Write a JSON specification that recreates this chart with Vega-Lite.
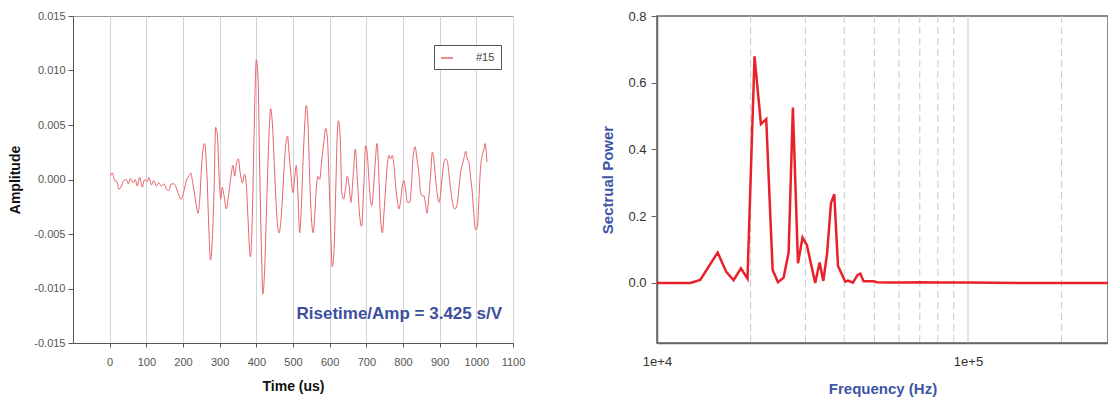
{
  "$schema": "https://vega.github.io/schema/vega-lite/v6.json",
  "padding": {"left": 7, "top": 9, "right": 0, "bottom": 0},
  "background": "white",
  "spacing": 74,
  "config": {
    "font": "Liberation Sans",
    "axis": {"labelFont": "Liberation Sans", "titleFont": "Liberation Sans"},
    "legend": {"labelFont": "Liberation Sans"}
  },
  "datasets": {
    "wave": [
      {"t": 2, "a": 0.0003}, {"t": 7, "a": 0.0006}, {"t": 14, "a": -0.0001}, {"t": 20, "a": -0.0002},
      {"t": 25, "a": -0.0009}, {"t": 32, "a": -0.0006}, {"t": 38, "a": -0.0001}, {"t": 45, "a": 0.0},
      {"t": 51, "a": -0.0004}, {"t": 57, "a": 0.0001}, {"t": 64, "a": -0.0003}, {"t": 70, "a": 0.0},
      {"t": 75, "a": -0.0006}, {"t": 82, "a": 0.0002}, {"t": 89, "a": -0.0007}, {"t": 95, "a": 0.0},
      {"t": 102, "a": -0.0002}, {"t": 107, "a": 0.0002}, {"t": 114, "a": -0.0005}, {"t": 120, "a": -0.0001},
      {"t": 127, "a": -0.0006}, {"t": 134, "a": -0.0003}, {"t": 141, "a": -0.0006}, {"t": 148, "a": -0.0004},
      {"t": 155, "a": -0.0009}, {"t": 161, "a": -0.001}, {"t": 168, "a": -0.0004}, {"t": 175, "a": -0.0004},
      {"t": 180, "a": -0.0006}, {"t": 186, "a": -0.0012}, {"t": 195, "a": -0.0018}, {"t": 203, "a": -0.001},
      {"t": 209, "a": -0.0001}, {"t": 216, "a": 0.0003}, {"t": 221, "a": 0.0006}, {"t": 227, "a": -0.0004},
      {"t": 235, "a": -0.0021}, {"t": 241, "a": -0.0031}, {"t": 245, "a": -0.0021}, {"t": 252, "a": 0.0019},
      {"t": 259, "a": 0.0033}, {"t": 265, "a": 0.0006}, {"t": 271, "a": -0.0049}, {"t": 275, "a": -0.0074},
      {"t": 280, "a": -0.0055}, {"t": 285, "a": -0.0006}, {"t": 289, "a": 0.0048}, {"t": 294, "a": 0.004},
      {"t": 298, "a": 0.0006}, {"t": 303, "a": -0.0018}, {"t": 307, "a": -0.0007}, {"t": 312, "a": -0.0015},
      {"t": 318, "a": -0.0027}, {"t": 325, "a": -0.0012}, {"t": 332, "a": 0.0006}, {"t": 336, "a": 0.0013},
      {"t": 341, "a": 0.0003}, {"t": 345, "a": 0.0013}, {"t": 351, "a": 0.0019}, {"t": 356, "a": 0.0006},
      {"t": 362, "a": -0.0003}, {"t": 368, "a": 0.0005}, {"t": 373, "a": -0.0006}, {"t": 377, "a": -0.0034},
      {"t": 384, "a": -0.0071}, {"t": 389, "a": -0.0034}, {"t": 394, "a": 0.0044}, {"t": 400, "a": 0.011},
      {"t": 405, "a": 0.009}, {"t": 409, "a": 0.0013}, {"t": 414, "a": -0.0065}, {"t": 418, "a": -0.0105},
      {"t": 423, "a": -0.008}, {"t": 429, "a": -0.0012}, {"t": 435, "a": 0.0044}, {"t": 439, "a": 0.0065},
      {"t": 444, "a": 0.005}, {"t": 450, "a": 0.0006}, {"t": 456, "a": -0.0034}, {"t": 462, "a": -0.0049},
      {"t": 468, "a": -0.0034}, {"t": 475, "a": 0.0006}, {"t": 480, "a": 0.0031}, {"t": 485, "a": 0.004},
      {"t": 489, "a": 0.0025}, {"t": 494, "a": 0.0006}, {"t": 500, "a": -0.0012}, {"t": 505, "a": 0.0003},
      {"t": 509, "a": 0.0013}, {"t": 514, "a": -0.0018}, {"t": 518, "a": -0.0049}, {"t": 523, "a": -0.0024},
      {"t": 527, "a": 0.0013}, {"t": 532, "a": 0.005}, {"t": 536, "a": 0.0068}, {"t": 541, "a": 0.005},
      {"t": 545, "a": 0.0006}, {"t": 550, "a": -0.0034}, {"t": 555, "a": -0.0049}, {"t": 559, "a": -0.0034},
      {"t": 564, "a": -0.0006}, {"t": 568, "a": 0.0003}, {"t": 573, "a": 0.0}, {"t": 577, "a": 0.0013},
      {"t": 584, "a": 0.0034}, {"t": 589, "a": 0.0047}, {"t": 594, "a": 0.0037}, {"t": 598, "a": 0.0003},
      {"t": 603, "a": -0.0049}, {"t": 607, "a": -0.008}, {"t": 612, "a": -0.0065}, {"t": 616, "a": -0.0018},
      {"t": 621, "a": 0.0044}, {"t": 624, "a": 0.0054}, {"t": 629, "a": 0.0037}, {"t": 633, "a": -0.0012},
      {"t": 638, "a": -0.0018}, {"t": 643, "a": -0.0009}, {"t": 648, "a": 0.0003}, {"t": 653, "a": -0.0006},
      {"t": 658, "a": -0.0021}, {"t": 664, "a": 0.0003}, {"t": 670, "a": 0.0028}, {"t": 675, "a": 0.0003},
      {"t": 682, "a": -0.0034}, {"t": 687, "a": -0.0043}, {"t": 693, "a": -0.0006}, {"t": 698, "a": 0.0031},
      {"t": 703, "a": 0.0022}, {"t": 707, "a": 0.0}, {"t": 712, "a": -0.0021}, {"t": 715, "a": -0.0024},
      {"t": 720, "a": -0.0006}, {"t": 725, "a": 0.0019}, {"t": 729, "a": 0.0033}, {"t": 734, "a": 0.0006},
      {"t": 738, "a": -0.0031}, {"t": 744, "a": -0.0049}, {"t": 748, "a": -0.0031}, {"t": 753, "a": -0.0006},
      {"t": 757, "a": 0.0013}, {"t": 762, "a": 0.0022}, {"t": 766, "a": 0.0019}, {"t": 771, "a": 0.0022},
      {"t": 775, "a": 0.0014}, {"t": 780, "a": -0.0006}, {"t": 785, "a": -0.0021}, {"t": 789, "a": -0.0027},
      {"t": 794, "a": -0.0018}, {"t": 798, "a": -0.0006}, {"t": 803, "a": -0.0001}, {"t": 807, "a": -0.0009},
      {"t": 812, "a": -0.0021}, {"t": 818, "a": -0.0021}, {"t": 823, "a": -0.0006}, {"t": 827, "a": 0.0019},
      {"t": 833, "a": 0.003}, {"t": 838, "a": 0.0019}, {"t": 844, "a": 0.0003}, {"t": 848, "a": -0.0012},
      {"t": 853, "a": -0.0015}, {"t": 857, "a": -0.0015}, {"t": 862, "a": -0.0024}, {"t": 865, "a": -0.0031},
      {"t": 870, "a": -0.0018}, {"t": 875, "a": 0.0003}, {"t": 880, "a": 0.0025}, {"t": 885, "a": 0.0016},
      {"t": 889, "a": 0.0}, {"t": 894, "a": -0.0015}, {"t": 898, "a": -0.0021}, {"t": 903, "a": -0.0012},
      {"t": 907, "a": 0.0003}, {"t": 912, "a": 0.0016}, {"t": 916, "a": 0.0019}, {"t": 921, "a": 0.0017},
      {"t": 925, "a": 0.0006}, {"t": 930, "a": -0.0009}, {"t": 935, "a": -0.0021}, {"t": 941, "a": -0.0027},
      {"t": 947, "a": -0.0024}, {"t": 953, "a": -0.0006}, {"t": 957, "a": 0.0006}, {"t": 962, "a": 0.0014},
      {"t": 966, "a": 0.0019}, {"t": 971, "a": 0.0026}, {"t": 975, "a": 0.0019}, {"t": 980, "a": 0.0016},
      {"t": 984, "a": 0.0003}, {"t": 989, "a": -0.0012}, {"t": 993, "a": -0.0031}, {"t": 998, "a": -0.0046},
      {"t": 1003, "a": -0.0043}, {"t": 1007, "a": -0.0018}, {"t": 1012, "a": 0.0013}, {"t": 1016, "a": 0.0022},
      {"t": 1021, "a": 0.0028}, {"t": 1024, "a": 0.0033}, {"t": 1029, "a": 0.0016}
    ],
    "spectrum": [
      {"f": 10000, "p": 0.0}, {"f": 12800, "p": 0.0}, {"f": 13770, "p": 0.009}, {"f": 15670, "p": 0.091},
      {"f": 16700, "p": 0.033}, {"f": 17630, "p": 0.008}, {"f": 18620, "p": 0.044}, {"f": 19540, "p": 0.013},
      {"f": 20590, "p": 0.679}, {"f": 21590, "p": 0.476}, {"f": 22450, "p": 0.491}, {"f": 23540, "p": 0.039},
      {"f": 24490, "p": 0.002}, {"f": 25540, "p": 0.016}, {"f": 26500, "p": 0.091}, {"f": 27350, "p": 0.526},
      {"f": 28400, "p": 0.059}, {"f": 29380, "p": 0.136}, {"f": 30340, "p": 0.113}, {"f": 32270, "p": 0.0},
      {"f": 33330, "p": 0.061}, {"f": 34260, "p": 0.006}, {"f": 35210, "p": 0.086}, {"f": 36260, "p": 0.239},
      {"f": 37150, "p": 0.266}, {"f": 38200, "p": 0.051}, {"f": 40300, "p": 0.004}, {"f": 41120, "p": 0.007},
      {"f": 42660, "p": 0.001}, {"f": 44160, "p": 0.024}, {"f": 45070, "p": 0.028}, {"f": 46160, "p": 0.005},
      {"f": 49700, "p": 0.005}, {"f": 50960, "p": 0.002}, {"f": 54900, "p": 0.001}, {"f": 62000, "p": 0.001},
      {"f": 70300, "p": 0.002}, {"f": 80000, "p": 0.001}, {"f": 100000, "p": 0.001}, {"f": 150000, "p": 0.0},
      {"f": 282000, "p": 0.0}
    ],
    "grid": [
      {"f": 20000}, {"f": 30000}, {"f": 40000}, {"f": 50000}, {"f": 60000}, {"f": 70000},
      {"f": 80000}, {"f": 90000}, {"f": 100000}, {"f": 200000}
    ]
  },
  "hconcat": [
    {
      "width": 440,
      "height": 327,
      "view": {"stroke": "#9a9a9a", "strokeWidth": 1},
      "encoding": {
        "x": {
          "field": "t", "type": "quantitative",
          "scale": {"domain": [-100, 1100], "nice": false, "zero": false},
          "axis": {
            "values": [0, 100, 200, 300, 400, 500, 600, 700, 800, 900, 1000, 1100],
            "tickCount": 12, "format": "d", "labelOverlap": false, "labelFlush": false,
            "title": "Time (us)", "titleFontSize": 14, "titleFontWeight": "bold", "titleColor": "#111",
            "titlePadding": 12,
            "labelFontSize": 11, "labelColor": "#555", "labelPadding": 9,
            "tickSize": 4, "tickColor": "#555", "domainColor": "#555",
            "grid": true, "gridColor": "#d4d4d4", "gridWidth": 1
          }
        },
        "y": {
          "field": "a", "type": "quantitative",
          "scale": {"domain": [-0.015, 0.015], "nice": false},
          "axis": {
            "values": [-0.015, -0.01, -0.005, 0, 0.005, 0.01, 0.015],
            "labelExpr": "datum.value < -0.0000001 ? '-' + format(-datum.value, '.3f') : format(abs(datum.value), '.3f')",
            "title": "Amplitude", "titleFontSize": 14, "titleFontWeight": "bold", "titleColor": "#111",
            "titlePadding": 7,
            "labelFontSize": 11, "labelColor": "#555", "labelPadding": 3,
            "tickSize": 5, "tickColor": "#555", "domainColor": "#555", "grid": false,
            "minExtent": 44, "maxExtent": 44
          }
        }
      },
      "layer": [
        {
          "data": {"name": "wave"},
          "transform": [{"calculate": "'#15'", "as": "series"}],
          "mark": {"type": "line", "strokeWidth": 1, "interpolate": "monotone"},
          "encoding": {
            "color": {
              "field": "series", "type": "nominal",
              "scale": {"range": ["#e6636b"]},
              "legend": {
                "title": null, "orient": "none", "legendX": 361, "legendY": 29,
                "strokeColor": "#555", "fillColor": "white", "padding": 6,
                "symbolType": "stroke", "symbolStrokeWidth": 1.5, "symbolSize": 144,
                "labelOffset": 22, "labelFontSize": 11, "labelColor": "#444"
              }
            }
          }
        },
        {
          "data": {"values": [{"t": 1070, "a": -0.01235, "label": "Risetime/Amp = 3.425 s/V"}]},
          "mark": {"type": "text", "align": "right", "baseline": "middle",
                   "fontSize": 17, "fontWeight": "bold", "color": "#3d4f9f", "font": "Liberation Sans"},
          "encoding": {
            "text": {"field": "label"}
          }
        }
      ]
    },
    {
      "width": 451,
      "height": 327,
      "view": {"stroke": "#666", "strokeWidth": 1.5},
      "layer": [
        {
          "data": {"name": "grid"},
          "mark": {"type": "rule", "color": "#c8c8c8", "strokeWidth": 1},
          "encoding": {
            "x": {"field": "f", "type": "quantitative"},
            "strokeDash": {"condition": {"test": "datum.f == 100000", "value": [1, 0]}, "value": [7, 4]}
          }
        },
        {
          "data": {"name": "spectrum"},
          "mark": {"type": "line", "color": "#e8212b", "strokeWidth": 2.5},
          "encoding": {
            "x": {
              "field": "f", "type": "quantitative",
              "scale": {"type": "log", "domain": [10000, 282000], "nice": false},
              "axis": {
                "values": [10000, 100000], "labelFlush": false,
                "labelExpr": "datum.value == 10000 ? '1e+4' : '1e+5'",
                "title": "Frequency (Hz)", "titleFontSize": 15, "titleFontWeight": "bold", "titleColor": "#3c55a5",
                "titlePadding": 13,
                "labelFontSize": 13, "labelColor": "#333", "labelPadding": 12,
                "ticks": false, "domainColor": "#666", "domainWidth": 1.5, "grid": false
              }
            },
            "y": {
              "field": "p", "type": "quantitative",
              "scale": {"domain": [-0.18, 0.8], "nice": false, "zero": false},
              "axis": {
                "values": [0, 0.2, 0.4, 0.6, 0.8], "format": ".1f",
                "title": "Sectrual Power", "titleFontSize": 15, "titleFontWeight": "bold", "titleColor": "#3c55a5",
                "titlePadding": 12,
                "labelFontSize": 13, "labelColor": "#333", "labelPadding": 5,
                "tickSize": 6, "tickColor": "#666", "domainColor": "#666", "domainWidth": 1.5, "grid": false
              }
            }
          }
        },
        {
          "mark": {"type": "text", "text": "14_Ch2_#15", "align": "left", "baseline": "middle",
                   "fontSize": 17, "fontWeight": "bold", "color": "#3c55a5", "font": "Liberation Sans"},
          "encoding": {
            "x": {"datum": 83300, "type": "quantitative"},
            "y": {"datum": 0.691, "type": "quantitative"}
          }
        }
      ]
    }
  ]
}
